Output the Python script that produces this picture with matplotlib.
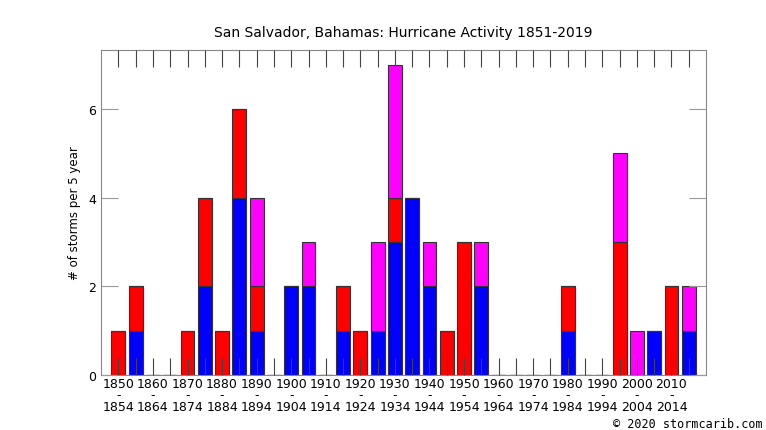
import numpy as np
import matplotlib
matplotlib.use('Agg')
import matplotlib.pyplot as plt

# inicio de cada periodo de 5 años (1850-1854 ... 2015-2019)
anios = list(range(1850, 2020, 5))

# conteos por periodo, apilados: azul abajo, rojo en medio, magenta arriba
azul = [0, 1, 0, 0, 0, 2, 0, 4, 1, 0, 2, 2, 0, 1, 0, 1, 3, 4, 2, 0,
        0, 2, 0, 0, 0, 0, 1, 0, 0, 0, 0, 1, 0, 1]
rojo = [1, 1, 0, 0, 1, 2, 1, 2, 1, 0, 0, 0, 0, 1, 1, 0, 1, 0, 0, 1,
        3, 0, 0, 0, 0, 0, 1, 0, 0, 3, 0, 0, 2, 0]
magenta = [0, 0, 0, 0, 0, 0, 0, 0, 2, 0, 0, 1, 0, 0, 0, 2, 3, 0, 1, 0,
           0, 1, 0, 0, 0, 0, 0, 0, 0, 2, 1, 0, 0, 1]

etiquetas = [f"{a}\n-\n{a + 4}" if i % 2 == 0 else "" for i, a in enumerate(anios)]

azul = np.array(azul)
rojo = np.array(rojo)
magenta = np.array(magenta)
x = np.arange(len(anios))

fig = plt.figure(figsize=(7.66, 4.31), dpi=100)
ax = fig.add_axes([0.132, 0.1276, 0.7897, 0.7541])

borde = dict(edgecolor='#333333', linewidth=0.8, width=0.8)
ax.bar(x, azul, color='#0000ff', **borde)
ax.bar(x, rojo, bottom=azul, color='#ff0000', **borde)
ax.bar(x, magenta, bottom=azul + rojo, color='#ff00ff', **borde)

ax.set_xlim(-1, len(anios))
ax.set_ylim(0, 7.33)
ax.set_axisbelow(False)

ax.set_xticks(x)
ax.set_xticklabels(etiquetas, fontsize=9, linespacing=0.84)
ax.set_yticks([0, 2, 4, 6])
ax.set_yticklabels(['0', '2', '4', '6'], fontsize=9)

ax.tick_params(axis='x', direction='in', length=12.5, width=0.8, color='#444444',
               top=True, bottom=True, pad=1.5)
ax.tick_params(axis='y', direction='in', length=12.5, width=0.8, color='#999999',
               left=True, right=True, pad=3.5)
for s in ax.spines.values():
    s.set_color('#888888')
    s.set_linewidth(0.8)

ax.set_ylabel('# of storms per 5 year', fontsize=8.5, labelpad=5)
fig.text(0.527, 0.923, 'San Salvador, Bahamas: Hurricane Activity 1851-2019',
         ha='center', va='center', fontsize=10)
fig.text(0.995, 0.016, '\u00a9 2020 stormcarib.com', ha='right', va='center',
         family='DejaVu Sans Mono', fontsize=8.5)

fig.savefig('out.png', dpi=100)
